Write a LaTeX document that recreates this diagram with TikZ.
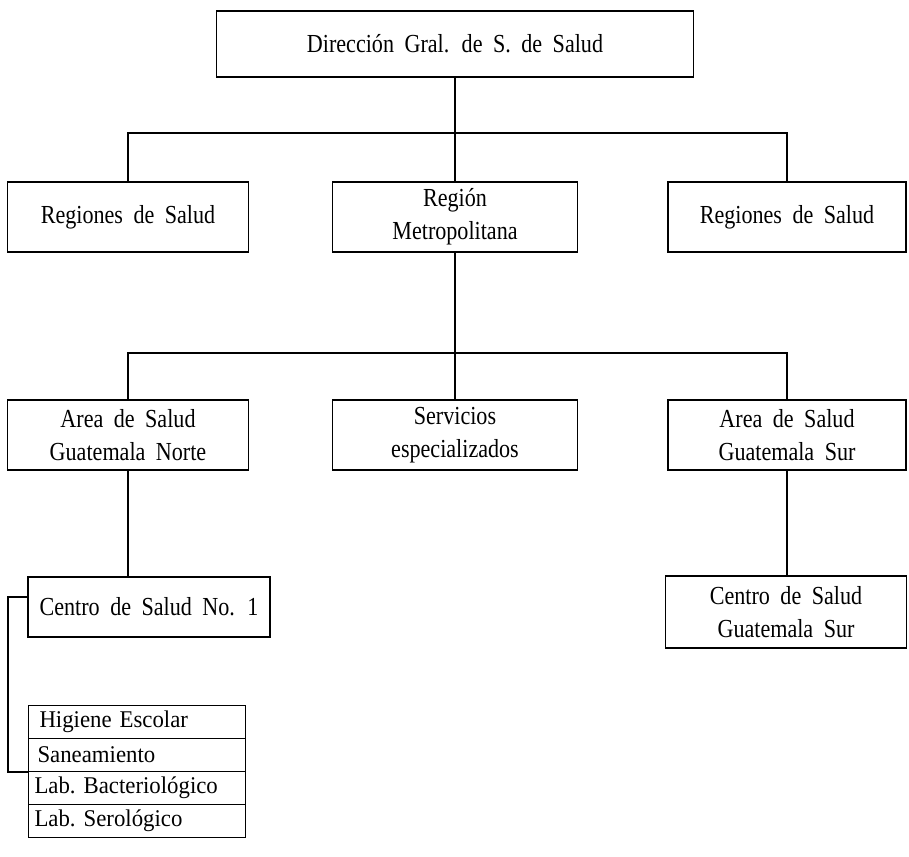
\documentclass[tikz,border=0pt]{standalone}
\usepackage{fontspec}
\setmainfont{Liberation Serif}[FakeStretch=0.85,WordSpace=1.9]
\newfontfamily\rowfont{Liberation Serif}[FakeStretch=0.95,WordSpace=2.0]
\begin{document}
\begin{tikzpicture}[x=1pt,y=-1pt,
  box/.style={draw,line width=1.4pt,rectangle,inner sep=2pt,align=center,font=\fontsize{26}{33}\selectfont},
  row/.style={draw,line width=1.2pt,rectangle,minimum width=217pt,minimum height=33pt,inner sep=0pt,text width=205pt,align=left,font=\rowfont\fontsize{24}{26}\selectfont},
  conn/.style={line width=1.4pt}]
\useasboundingbox (0,0) rectangle (909,856);
\node[box,minimum width=477pt,minimum height=66pt] (top) at (455,44) {Dirección Gral. de S. de Salud};
\node[box,minimum width=241pt,minimum height=70pt] (rl) at (128,217) {Regiones de Salud};
\node[box,minimum width=245pt,minimum height=70pt] (rm) at (455,217) {Región\\Metropolitana};
\node[box,minimum width=238pt,minimum height=70pt] (rr) at (787,217) {Regiones de Salud};
\node[box,minimum width=241pt,minimum height=70pt] (al) at (128,435) {Area de Salud\\Guatemala Norte};
\node[box,minimum width=245pt,minimum height=70pt] (as) at (455,435) {Servicios\\especializados};
\node[box,minimum width=238pt,minimum height=70pt] (ar) at (787,435) {Area de Salud\\Guatemala Sur};
\node[box,minimum width=242pt,minimum height=60pt] (c1) at (149,607) {Centro de Salud No. 1};
\node[box,minimum width=241pt,minimum height=72pt] (cs) at (786,612) {Centro de Salud\\Guatemala Sur};
\node[row] (h1) at (137,722) {\hspace*{5pt}Higiene Escolar};
\node[row] (h2) at (137,755) {\hspace*{3pt}Saneamiento};
\node[row] (h3) at (137,788) {Lab.\ Bacteriológico};
\node[row] (h4) at (137,821) {Lab.\ Serológico};
\coordinate (j1) at (455,133);
\coordinate (j2) at (455,353);
\coordinate (k) at (8,597);
\draw[conn] (top.south) -- (j1);
\draw[conn] (rl.north) -- (rl.north |- j1) -- (rr.north |- j1) -- (rr.north);
\draw[conn] (j1) -- (j1 |- rm.north);
\draw[conn] (rm.south) -- (j2);
\draw[conn] (al.north) -- (al.north |- j2) -- (ar.north |- j2) -- (ar.north);
\draw[conn] (j2) -- (j2 |- as.north);
\draw[conn] (al.south) -- (al.south |- c1.north);
\draw[conn] (ar.south) -- (ar.south |- cs.north);
\draw[conn] (c1.west |- k) -- (k) -- (k |- h2.south) -- (h2.south west);
\end{tikzpicture}
\end{document}
